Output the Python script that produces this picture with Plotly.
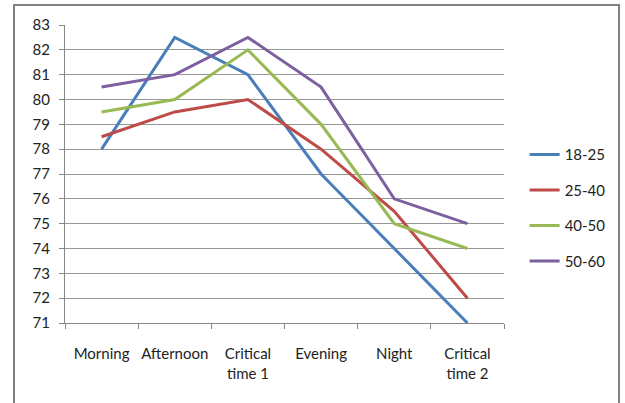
import plotly.graph_objects as go

categories = ["Morning", "Afternoon", "Critical<br>time 1", "Evening", "Night", "Critical<br>time 2"]
series_names = ["18-25", "25-40", "40-50", "50-60"]
s_18_25 = [78, 82.5, 81, 77, 74, 71]
s_25_40 = [78.5, 79.5, 80, 78, 75.5, 72]
s_40_50 = [79.5, 80, 82, 79, 75, 74]
s_50_60 = [80.5, 81, 82.5, 80.5, 76, 75]
y_ticks = list(range(71, 84))

colors = ["#4A7EBB", "#BE4B48", "#98B954", "#7D60A0"]
series = [s_18_25, s_25_40, s_40_50, s_50_60]

FONT = "Lato"
fig = go.Figure()
for name, vals, c in zip(series_names, series, colors):
    fig.add_trace(go.Scatter(
        x=categories, y=vals, name=name, mode="lines",
        line=dict(color=c, width=3), legendgroup=name,
    ))

fig.update_layout(
    width=625, height=403,
    margin=dict(l=65, r=121, t=25, b=80, autoexpand=False),
    paper_bgcolor="white", plot_bgcolor="white",
    font=dict(family=FONT, size=15, color="#222"),
    showlegend=True,
    legend=dict(x=1.047, y=0.62, xanchor="left", yanchor="top",
                font=dict(family=FONT, size=15, color="#222"),
                tracegroupgap=13, itemwidth=30, bgcolor="rgba(0,0,0,0)"),
    xaxis=dict(type="category", range=[-0.5, 5.5], showgrid=False, automargin=False,
               showline=True, linecolor="#868686", linewidth=1, tickangle=0,
               ticks="outside", tickson="boundaries", ticklen=5, tickcolor="#868686",
               ticklabelstandoff=17, tickfont=dict(size=15)),
    yaxis=dict(range=[71, 83], tickvals=y_ticks, showgrid=True, gridcolor="#969696",
               gridwidth=1, showline=True, linecolor="#868686", linewidth=1, automargin=False,
               ticks="outside", ticklen=5, tickcolor="#868686", zeroline=False,
               ticklabelstandoff=6, tickfont=dict(size=15)),
    shapes=[
        dict(type="path", xref="paper", yref="paper",
             path="M %f,%f L %f,%f L %f,%f L %f,%f" % (
                 (14 - 65) / 439, -0.4, (14 - 65) / 439, (323 - 5) / 298,
                 (619 - 65) / 439, (323 - 5) / 298, (619 - 65) / 439, -0.4),
             line=dict(color="#808080", width=2)),
    ],
)

fig.write_html("out.html")
